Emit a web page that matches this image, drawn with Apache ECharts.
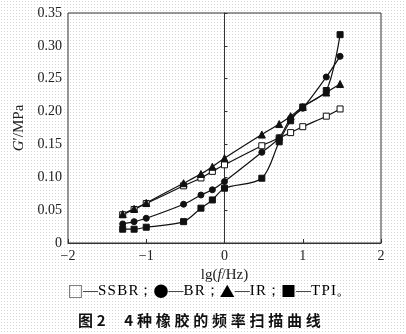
<!DOCTYPE html>
<html>
<head>
<meta charset="utf-8">
<script src="https://cdn.jsdelivr.net/npm/echarts@6/dist/echarts.min.js"></script>
<style>
html,body{margin:0;padding:0;background:#fff;}
#c{width:406px;height:334px;}
</style>
</head>
<body>
<div id="c"></div>
<script>
// lg(f/Hz) values
const xValues = [-1.301, -1.155, -1, -0.523, -0.301, -0.155, 0, 0.477, 0.699, 0.845, 1, 1.301, 1.477];
// G'/MPa
const ssbr = [0.043, 0.051, 0.060, 0.087, 0.099, 0.109, 0.119, 0.148, 0.160, 0.168, 0.177, 0.193, 0.204];
const br   = [0.029, 0.0325, 0.0376, 0.059, 0.073, 0.081, 0.0935, 0.138, 0.160, 0.190, 0.205, 0.2526, 0.284];
const ir   = [0.044, 0.052, 0.061, 0.091, 0.105, 0.116, 0.129, 0.165, 0.181, 0.193, 0.207, 0.229, 0.242];
const tpi  = [0.021, 0.021, 0.024, 0.0325, 0.053, 0.0655, 0.0834, 0.0986, 0.154, 0.186, 0.207, 0.232, 0.317];
const seriesNames = ['SSBR', 'BR', 'IR', 'TPI'];
const captionText = '图\u20052\u3000\u20054\u2005种\u2005橡\u2005胶\u2005的\u2005频\u2005率\u2005扫\u2005描\u2005曲\u2005线';

const pair = arr => xValues.map((x, i) => [x, arr[i]]);
const spaced = s => s.split('').join('\u200a');

// halftone-like background pattern (scan texture)
const pc = document.createElement('canvas');
pc.width = 3; pc.height = 3;
const pctx = pc.getContext('2d');
pctx.fillStyle = '#ffffff'; pctx.fillRect(0, 0, 3, 3);
pctx.fillStyle = '#d6d6d6'; pctx.fillRect(1, 1, 1, 1);
document.getElementById('c').style.backgroundImage = 'url(' + pc.toDataURL() + ')';

const serif = '"Liberation Serif", "DejaVu Serif", serif';
const chart = echarts.init(document.getElementById('c'));

function mk(name, data, symbol, fill) {
  return {
    name: name,
    type: 'line',
    data: pair(data),
    smooth: 0.3,
    symbol: symbol,
    symbolSize: symbol === 'triangle' ? 7 : 6,
    showSymbol: true,
    lineStyle: { color: '#111', width: 1.2 },
    itemStyle: { color: fill, borderColor: '#111', borderWidth: 1 },
    emphasis: { disabled: true },
    z: 3
  };
}

const legendRich = {
  sym: { fontFamily: '"Noto Sans CJK SC", sans-serif', fontSize: 15, color: '#111' },
  t: { fontFamily: serif, fontSize: 15, color: '#222' }
};
const legendText =
  '{sym|□}{t|—' + spaced(seriesNames[0]) + '；}' +
  '{sym|●}{t|—' + spaced(seriesNames[1]) + '；}' +
  '{sym|▲}{t|—' + spaced(seriesNames[2]) + '；}' +
  '{sym|■}{t|—' + spaced(seriesNames[3]) + '。}';

chart.setOption({
  animation: false,
  backgroundColor: 'transparent',
  grid: { left: 68, right: 25, top: 13, bottom: 91, show: true, borderColor: '#333', borderWidth: 1, backgroundColor: 'transparent' },
  xAxis: {
    type: 'value', min: -2, max: 2, interval: 1,
    name: '{t|lg(}{i|f}{t|/Hz)}',
    nameLocation: 'middle', nameGap: 24,
    nameTextStyle: { rich: {
      t: { fontFamily: serif, fontSize: 15, color: '#222' },
      i: { fontFamily: serif, fontSize: 15, fontStyle: 'italic', color: '#222' } } },
    axisLine: { lineStyle: { color: '#333', width: 1 } },
    axisTick: { inside: true, length: 4, lineStyle: { color: '#333' } },
    axisLabel: { fontFamily: serif, fontSize: 14, color: '#222', margin: 6,
      formatter: v => (v < 0 ? '\u2212' + Math.abs(v) : String(v)) },
    splitLine: { show: false }
  },
  yAxis: {
    type: 'value', min: 0, max: 0.35, interval: 0.05,
    name: '{i|G}{t|′/MPa}',
    nameLocation: 'middle', nameGap: 36,
    nameTextStyle: { rich: {
      t: { fontFamily: serif, fontSize: 15, color: '#222' },
      i: { fontFamily: serif, fontSize: 15, fontStyle: 'italic', color: '#222' } } },
    axisLine: { show: true, lineStyle: { color: '#333', width: 1 } },
    axisTick: { show: true, inside: true, length: 3, lineStyle: { color: '#333' } },
    axisLabel: { fontFamily: serif, fontSize: 14, color: '#222', margin: 6,
      formatter: v => (v === 0 ? '0' : v.toFixed(2)) },
    splitLine: { show: false }
  },
  series: [
    mk(seriesNames[0], ssbr, 'rect', '#ffffff'),
    mk(seriesNames[1], br, 'circle', '#111'),
    mk(seriesNames[2], ir, 'triangle', '#111'),
    mk(seriesNames[3], tpi, 'rect', '#111')
  ],
  graphic: [
    { type: 'text', left: 68, top: 284, style: { text: legendText, rich: legendRich } },
    { type: 'text', left: 78, top: 313, style: { text: captionText, font: 'bold 15px "Noto Sans CJK SC", sans-serif', fill: '#111' } }
  ]
});
</script>
</body>
</html>
